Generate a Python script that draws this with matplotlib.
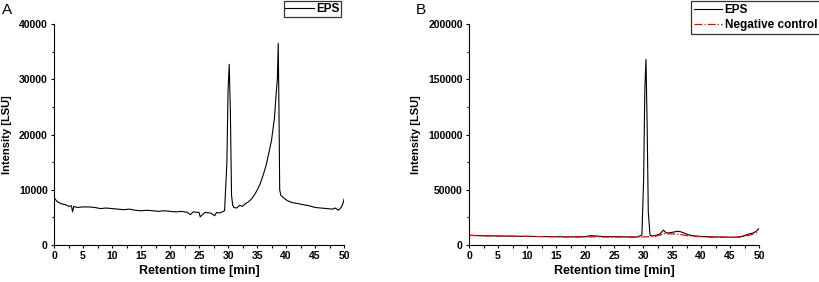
import numpy as np
from matplotlib import pyplot as plt
from matplotlib.ticker import MultipleLocator

plt.rcParams['font.family'] = ['Liberation Sans', 'DejaVu Sans']
plt.rcParams['font.weight'] = 'bold'

# Panel A - EPS
time_a = [0, 0.5, 1, 1.5, 2, 2.5, 3, 3.2, 3.4, 4, 5, 6, 7, 8, 9, 10, 11, 12, 13,
          14, 15, 16, 17, 18, 19, 20, 21, 22, 23, 23.5, 24, 25, 25.2, 26, 27,
          27.7, 28, 28.5, 29, 29.4, 29.8, 30.0, 30.2, 30.4, 30.6, 30.8, 31, 31.5,
          32, 32.5, 33, 33.5, 34, 34.5, 35, 35.5, 36, 36.5, 37, 37.5, 38, 38.3,
          38.5, 38.65, 38.8, 38.9, 39.1, 39.5, 40, 40.5, 41, 42, 43, 44, 45, 46,
          47, 48, 48.5, 49, 49.5, 49.8, 50]
eps_a = [8600, 7900, 7600, 7400, 7300, 7000, 7100, 6000, 7000, 6800, 6900, 6900,
         6800, 6600, 6700, 6600, 6500, 6400, 6500, 6300, 6200, 6300, 6200, 6100,
         6200, 6100, 6000, 6100, 5900, 5500, 6000, 5900, 5100, 5900, 5800,
         5300, 5900, 5800, 6000, 6200, 15000, 28000, 32700, 24000, 9000, 7200,
         6800, 6700, 7200, 7000, 7500, 7800, 8300, 9000, 9900, 11000, 12500,
         14200, 16500, 19000, 23000, 27500, 30000, 36500, 22000, 10000, 9000,
         8600, 8200, 7900, 7700, 7500, 7300, 7100, 6800, 6700, 6600, 6500, 6700,
         6300, 6800, 7500, 8300]

# Panel B - EPS and negative control
time_b = [0, 1, 2, 3, 4, 5, 6, 7, 8, 9, 10, 11, 12, 13, 14, 15, 16, 17, 18, 19,
          20, 21, 22, 23, 24, 25, 26, 27, 28, 29, 29.8, 30.1, 30.3, 30.5, 30.7,
          30.9, 31.2, 31.6, 32, 32.5, 33, 33.5, 34, 34.5, 35, 35.5, 36, 36.5, 37,
          37.5, 38, 39, 40, 41, 42, 43, 44, 45, 46, 47, 48, 49, 49.5, 50]
eps_b = [8800, 8700, 8500, 8400, 8300, 8200, 8100, 8100, 8000, 7900, 7900, 7800,
         7700, 7700, 7600, 7600, 7500, 7500, 7400, 7500, 7600, 8500, 8200, 7700,
         7600, 7500, 7500, 7400, 7300, 7300, 9000, 60000, 140000, 168000,
         110000, 30000, 9000, 8200, 8600, 9200, 10500, 13500, 11000, 11000,
         11500, 12000, 12500, 12000, 11000, 10000, 9000, 8200, 7800, 7600, 7400,
         7300, 7200, 7100, 7100, 7800, 9500, 11000, 12500, 15000]
neg_b = [8700, 8600, 8500, 8300, 8200, 8100, 8100, 8000, 7900, 7900, 7800, 7700,
         7700, 7600, 7500, 7500, 7400, 7400, 7300, 7300, 7300, 7400, 7400, 7300,
         7300, 7300, 7200, 7200, 7200, 7200, 7300, 7400, 7400, 7400, 7500,
         7500, 7600, 7700, 8000, 8500, 9000, 10500, 10000, 10200, 10000, 10000,
         9800, 9500, 9000, 8600, 8200, 7800, 7500, 7300, 7200, 7100, 7000, 7000,
         7000, 7300, 8500, 10000, 11000, 12000]

fig = plt.figure(figsize=(8.2, 2.82), dpi=100)
ax_a = fig.add_axes([0.0659, 0.131, 0.3537, 0.784])
ax_b = fig.add_axes([0.572, 0.131, 0.3537, 0.784])

ax_a.plot(time_a, eps_a, color='black', lw=0.8, label='EPS')
ax_b.plot(time_b, eps_b, color='black', lw=0.8, label='EPS')
ax_b.plot(time_b, neg_b, color='red', lw=0.9, ls='-.', label='Negative control')

for ax, ymax, step in [(ax_a, 40000, 10000), (ax_b, 200000, 50000)]:
    ax.set_xlim(0, 50)
    ax.set_ylim(0, ymax)
    ax.xaxis.set_major_locator(MultipleLocator(5))
    ax.xaxis.set_minor_locator(MultipleLocator(2.5))
    ax.yaxis.set_major_locator(MultipleLocator(step))
    ax.yaxis.set_minor_locator(MultipleLocator(step / 2))
    ax.spines['top'].set_visible(False)
    ax.spines['right'].set_visible(False)
    ax.tick_params(which='both', direction='out', labelsize=7.5, width=0.8, pad=2)
    ax.tick_params(which='major', length=2.5)
    ax.tick_params(which='minor', length=1.8)
    ax.set_xlabel('Retention time [min]', fontsize=9, fontweight='bold', labelpad=3)
    ax.set_ylabel('Intensity [LSU]', fontsize=8, fontweight='bold', labelpad=5)
    for lab in ax.get_xticklabels() + ax.get_yticklabels():
        lab.set_fontweight('bold')

leg_a = ax_a.legend(loc='upper right', bbox_to_anchor=(0.99, 1.104), fontsize=8.5,
                    frameon=True, fancybox=False, edgecolor='black',
                    handlelength=2.4, handletextpad=0.2, borderpad=0.15,
                    borderaxespad=0)
leg_a.get_frame().set_linewidth(0.9)
leg_b = ax_b.legend(loc='upper right', bbox_to_anchor=(1.21, 1.104), fontsize=8.5,
                    frameon=True, fancybox=False, edgecolor='black',
                    handlelength=2.4, handletextpad=0.2, borderpad=0.25,
                    labelspacing=0.3, borderaxespad=0)
leg_b.get_frame().set_linewidth(0.9)

fig.text(0.002, 0.965, 'A', fontsize=11, fontweight='normal', va='center')
fig.text(0.507, 0.965, 'B', fontsize=11, fontweight='normal', va='center')

fig.savefig('out.png', dpi=100)
